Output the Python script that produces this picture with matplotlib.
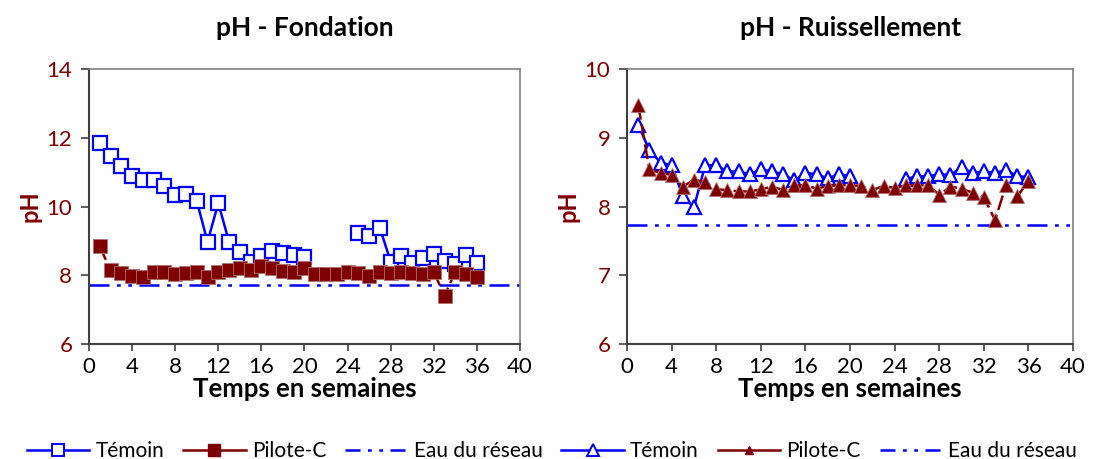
"""pH des eaux de fondation et de ruissellement: Témoin vs Pilote-C."""

import matplotlib.pyplot as plt
import numpy as np
from matplotlib.lines import Line2D

plt.rcParams["font.family"] = ["Lato", "DejaVu Sans"]

BLUE = "#0000FF"
DARK_RED = "#7F0000"

# DONNÉES

weeks = list(range(1, 37))
nan = np.nan

# pH - Fondation
fond_temoin = [11.86, 11.48, 11.18, 10.90, 10.76, 10.76, 10.60, 10.35, 10.37, 10.17,
               8.97, 10.10, 8.97, 8.67, 8.40, 8.55, 8.72, 8.64, 8.59, 8.52,
               nan, nan, nan, nan, 9.24, 9.15, 9.37, 8.40, 8.55, 8.37,
               8.49, 8.62, 8.43, 8.33, 8.59, 8.37]
fond_pilote = [8.85, 8.14, 8.08, 7.98, 7.96, 8.11, 8.09, 8.04, 8.08, 8.11,
               7.96, 8.10, 8.14, 8.21, 8.16, 8.28, 8.22, 8.13, 8.09, 8.22,
               8.04, 8.04, 8.04, 8.11, 8.06, 7.99, 8.11, 8.08, 8.10, 8.08,
               8.04, 8.09, 7.41, 8.11, 8.04, 7.96]

# pH - Ruissellement
ruis_temoin = [9.19, 8.82, 8.64, 8.60, 8.15, 7.99, 8.60, 8.60, 8.51, 8.51,
               8.47, 8.54, 8.51, 8.47, 8.38, 8.49, 8.47, 8.41, 8.47, 8.44,
               nan, nan, nan, nan, 8.40, 8.44, 8.44, 8.47, 8.46, 8.57,
               8.49, 8.51, 8.49, 8.53, 8.44, 8.43]
ruis_pilote = [9.48, 8.54, 8.49, 8.46, 8.29, 8.39, 8.36, 8.25, 8.24, 8.22,
               8.22, 8.25, 8.29, 8.24, 8.31, 8.31, 8.26, 8.30, 8.31, 8.31,
               8.30, 8.24, 8.30, 8.27, 8.31, 8.31, 8.31, 8.17, 8.29, 8.26,
               8.20, 8.14, 7.80, 8.32, 8.15, 8.37]

reseau_x = [0, 40]
reseau_ph = [7.73, 7.73]

RESEAU_DASHES = (8, 3, 1.5, 3, 1.5, 3)


# FIGURE

fig = plt.figure(figsize=(11.04, 4.59), dpi=100)
ax_f = fig.add_axes([0.0806, 0.2505, 0.3904, 0.599])
ax_r = fig.add_axes([0.568, 0.2505, 0.404, 0.599])


def draw_panel(ax, temoin, pilote, marker, title, ylim, yticks):
    ax.plot(reseau_x, reseau_ph, color=BLUE, lw=1.8, dashes=RESEAU_DASHES, zorder=2)
    ax.plot(weeks, temoin, color=BLUE, lw=1.8, marker=marker, ms=10,
            mfc="white", mec=BLUE, mew=1.6, zorder=3)
    ax.plot(weeks, pilote, color=DARK_RED, lw=1.8, dashes=(6, 2), marker=marker, ms=10,
            mfc=DARK_RED, mec="#B07070", mew=0.6, zorder=4)

    ax.set_xlim(0, 40)
    ax.set_ylim(*ylim)
    ax.set_xticks(range(0, 41, 4))
    ax.set_yticks(yticks)
    ax.tick_params(axis="y", colors="#404040", labelcolor=DARK_RED, labelsize=16,
                   direction="out", length=6, width=1.2, pad=6)
    ax.tick_params(axis="x", colors="#404040", labelcolor="black", labelsize=16,
                   direction="out", length=5, width=1.2, pad=4)
    for side in ["left", "bottom"]:
        ax.spines[side].set_color("#404040")
        ax.spines[side].set_linewidth(1.5)
    for side in ["top", "right"]:
        ax.spines[side].set_color("#7F7F7F")
        ax.spines[side].set_linewidth(1.2)

    ax.set_title(title, fontsize=19, fontweight="bold", pad=24)
    ax.set_xlabel("Temps en semaines", fontsize=18.5, fontweight="bold", labelpad=0)
    ax.set_ylabel("pH", fontsize=17, fontweight="bold", color=DARK_RED, labelpad=4)


draw_panel(ax_f, fond_temoin, fond_pilote, "s", "pH - Fondation", (6, 14), [6, 8, 10, 12, 14])
draw_panel(ax_r, ruis_temoin, ruis_pilote, "^", "pH - Ruissellement", (6, 10), [6, 7, 8, 9, 10])

# Légende commune en bas (poignées simplifiées comme dans Excel)
handles = []
labels = []
for marker, pil_ms in (("s", 8), ("^", 6)):
    handles += [
        Line2D([], [], color=BLUE, lw=1.8, marker=marker, ms=9, mfc="white", mec=BLUE, mew=1.4),
        Line2D([], [], color=DARK_RED, lw=1.8, marker=marker, ms=pil_ms, mfc=DARK_RED, mec=DARK_RED),
        Line2D([], [], color=BLUE, lw=1.8, dashes=(6, 3, 1.5, 3, 1.5, 3)),
    ]
    labels += ["Témoin", "Pilote-C", "Eau du réseau"]

leg = fig.legend(handles, labels, loc="lower center", ncol=6, frameon=False,
                 fontsize=15, handlelength=3.0, handletextpad=0.3, columnspacing=0.9,
                 bbox_to_anchor=(0.5, -0.045))

fig.savefig("out.png", dpi=100)
